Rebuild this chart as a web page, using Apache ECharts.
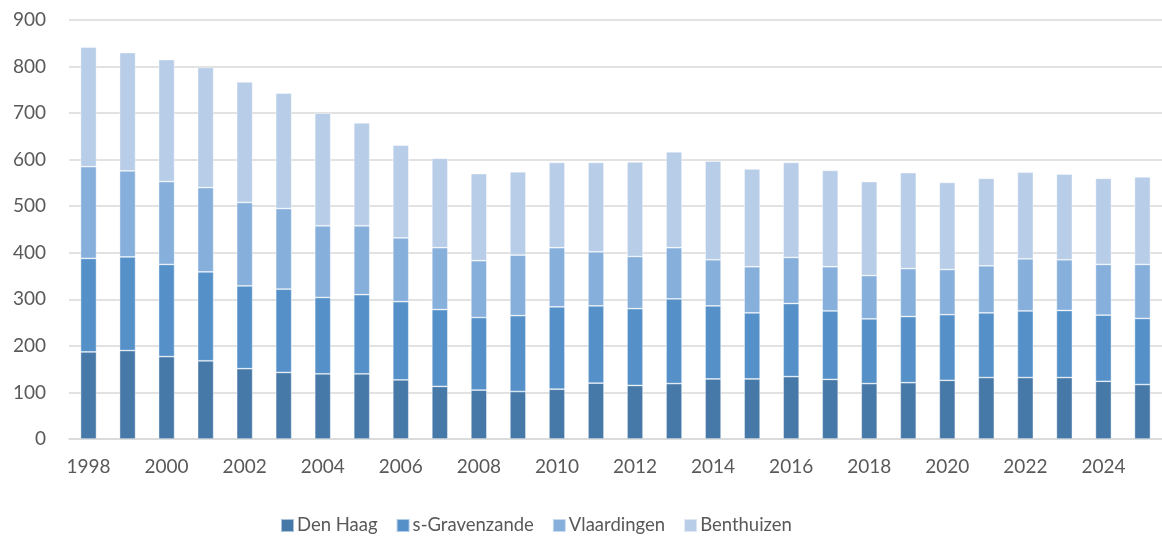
<!DOCTYPE html>
<html>
<head>
<meta charset="utf-8">
<script src="https://cdn.jsdelivr.net/npm/echarts@6/dist/echarts.min.js"></script>
<style>
  html, body { margin: 0; padding: 0; background: #fff; }
  #chart { width: 1162px; height: 536px; }
</style>
</head>
<body>
<div id="chart"></div>
<script>
  // jaren
  var years = ['1998','1999','2000','2001','2002','2003','2004','2005','2006','2007',
    '2008','2009','2010','2011','2012','2013','2014','2015','2016','2017',
    '2018','2019','2020','2021','2022','2023','2024','2025'];

  var denHaag = [187,190,177,168,151,143,140,140,127,113,105,102,107,120,115,119,129,129,134,128,119,121,126,132,132,132,124,117];
  var sGravenzande = [201,201,198,191,178,179,164,170,168,165,156,163,177,166,165,182,157,142,157,147,139,142,141,139,143,144,142,142];
  var vlaardingen = [197,185,178,181,179,173,154,148,137,133,122,130,127,116,112,110,99,99,99,95,93,103,97,101,112,109,109,116];
  var benthuizen = [257,254,262,258,259,248,242,221,199,192,187,179,183,192,203,206,212,210,204,207,202,206,187,188,186,184,185,188];

  var seriesNames = ['Den Haag', 's-Gravenzande', 'Vlaardingen', 'Benthuizen'];
  var colors = ['#4779a8', '#5591c8', '#86afdc', '#b8cde7'];
  var yTicks = [0, 100, 200, 300, 400, 500, 600, 700, 800, 900];

  var font = 'Lato, "Open Sans", sans-serif';
  var myChart = echarts.init(document.getElementById('chart'));

  function makeSeries(name, data) {
    return {
      name: name,
      type: 'bar',
      stack: 'totaal',
      barWidth: 16,
      itemStyle: { borderColor: 'rgba(255,255,255,0.55)', borderWidth: 0.75 },
      data: data
    };
  }

  var option = {
    animation: false,
    color: colors,
    textStyle: { fontFamily: font },
    grid: { left: 69, top: 20, bottom: 97, width: 1102 },
    legend: {
      top: 511,
      left: 275,
      itemWidth: 13,
      itemHeight: 13,
      itemGap: 18,
      icon: 'rect',
      textStyle: { fontSize: 18.5, color: '#595959', fontFamily: font, padding: [0, 0, 0, -2] },
      data: seriesNames
    },
    xAxis: {
      type: 'category',
      data: years,
      axisLine: { lineStyle: { color: '#d9d9d9', width: 1.5 } },
      axisTick: { show: false },
      axisLabel: { interval: 1, fontSize: 19, color: '#595959', margin: 18, fontFamily: font }
    },
    yAxis: {
      type: 'value',
      min: yTicks[0],
      max: yTicks[yTicks.length - 1],
      interval: 100,
      axisLine: { show: false },
      axisTick: { show: false },
      axisLabel: { fontSize: 19, color: '#595959', margin: 23, fontFamily: font },
      splitLine: { lineStyle: { color: '#d9d9d9', width: 1.5 } }
    },
    series: [
      makeSeries(seriesNames[0], denHaag),
      makeSeries(seriesNames[1], sGravenzande),
      makeSeries(seriesNames[2], vlaardingen),
      makeSeries(seriesNames[3], benthuizen)
    ]
  };
  myChart.setOption(option);
</script>
</body>
</html>
